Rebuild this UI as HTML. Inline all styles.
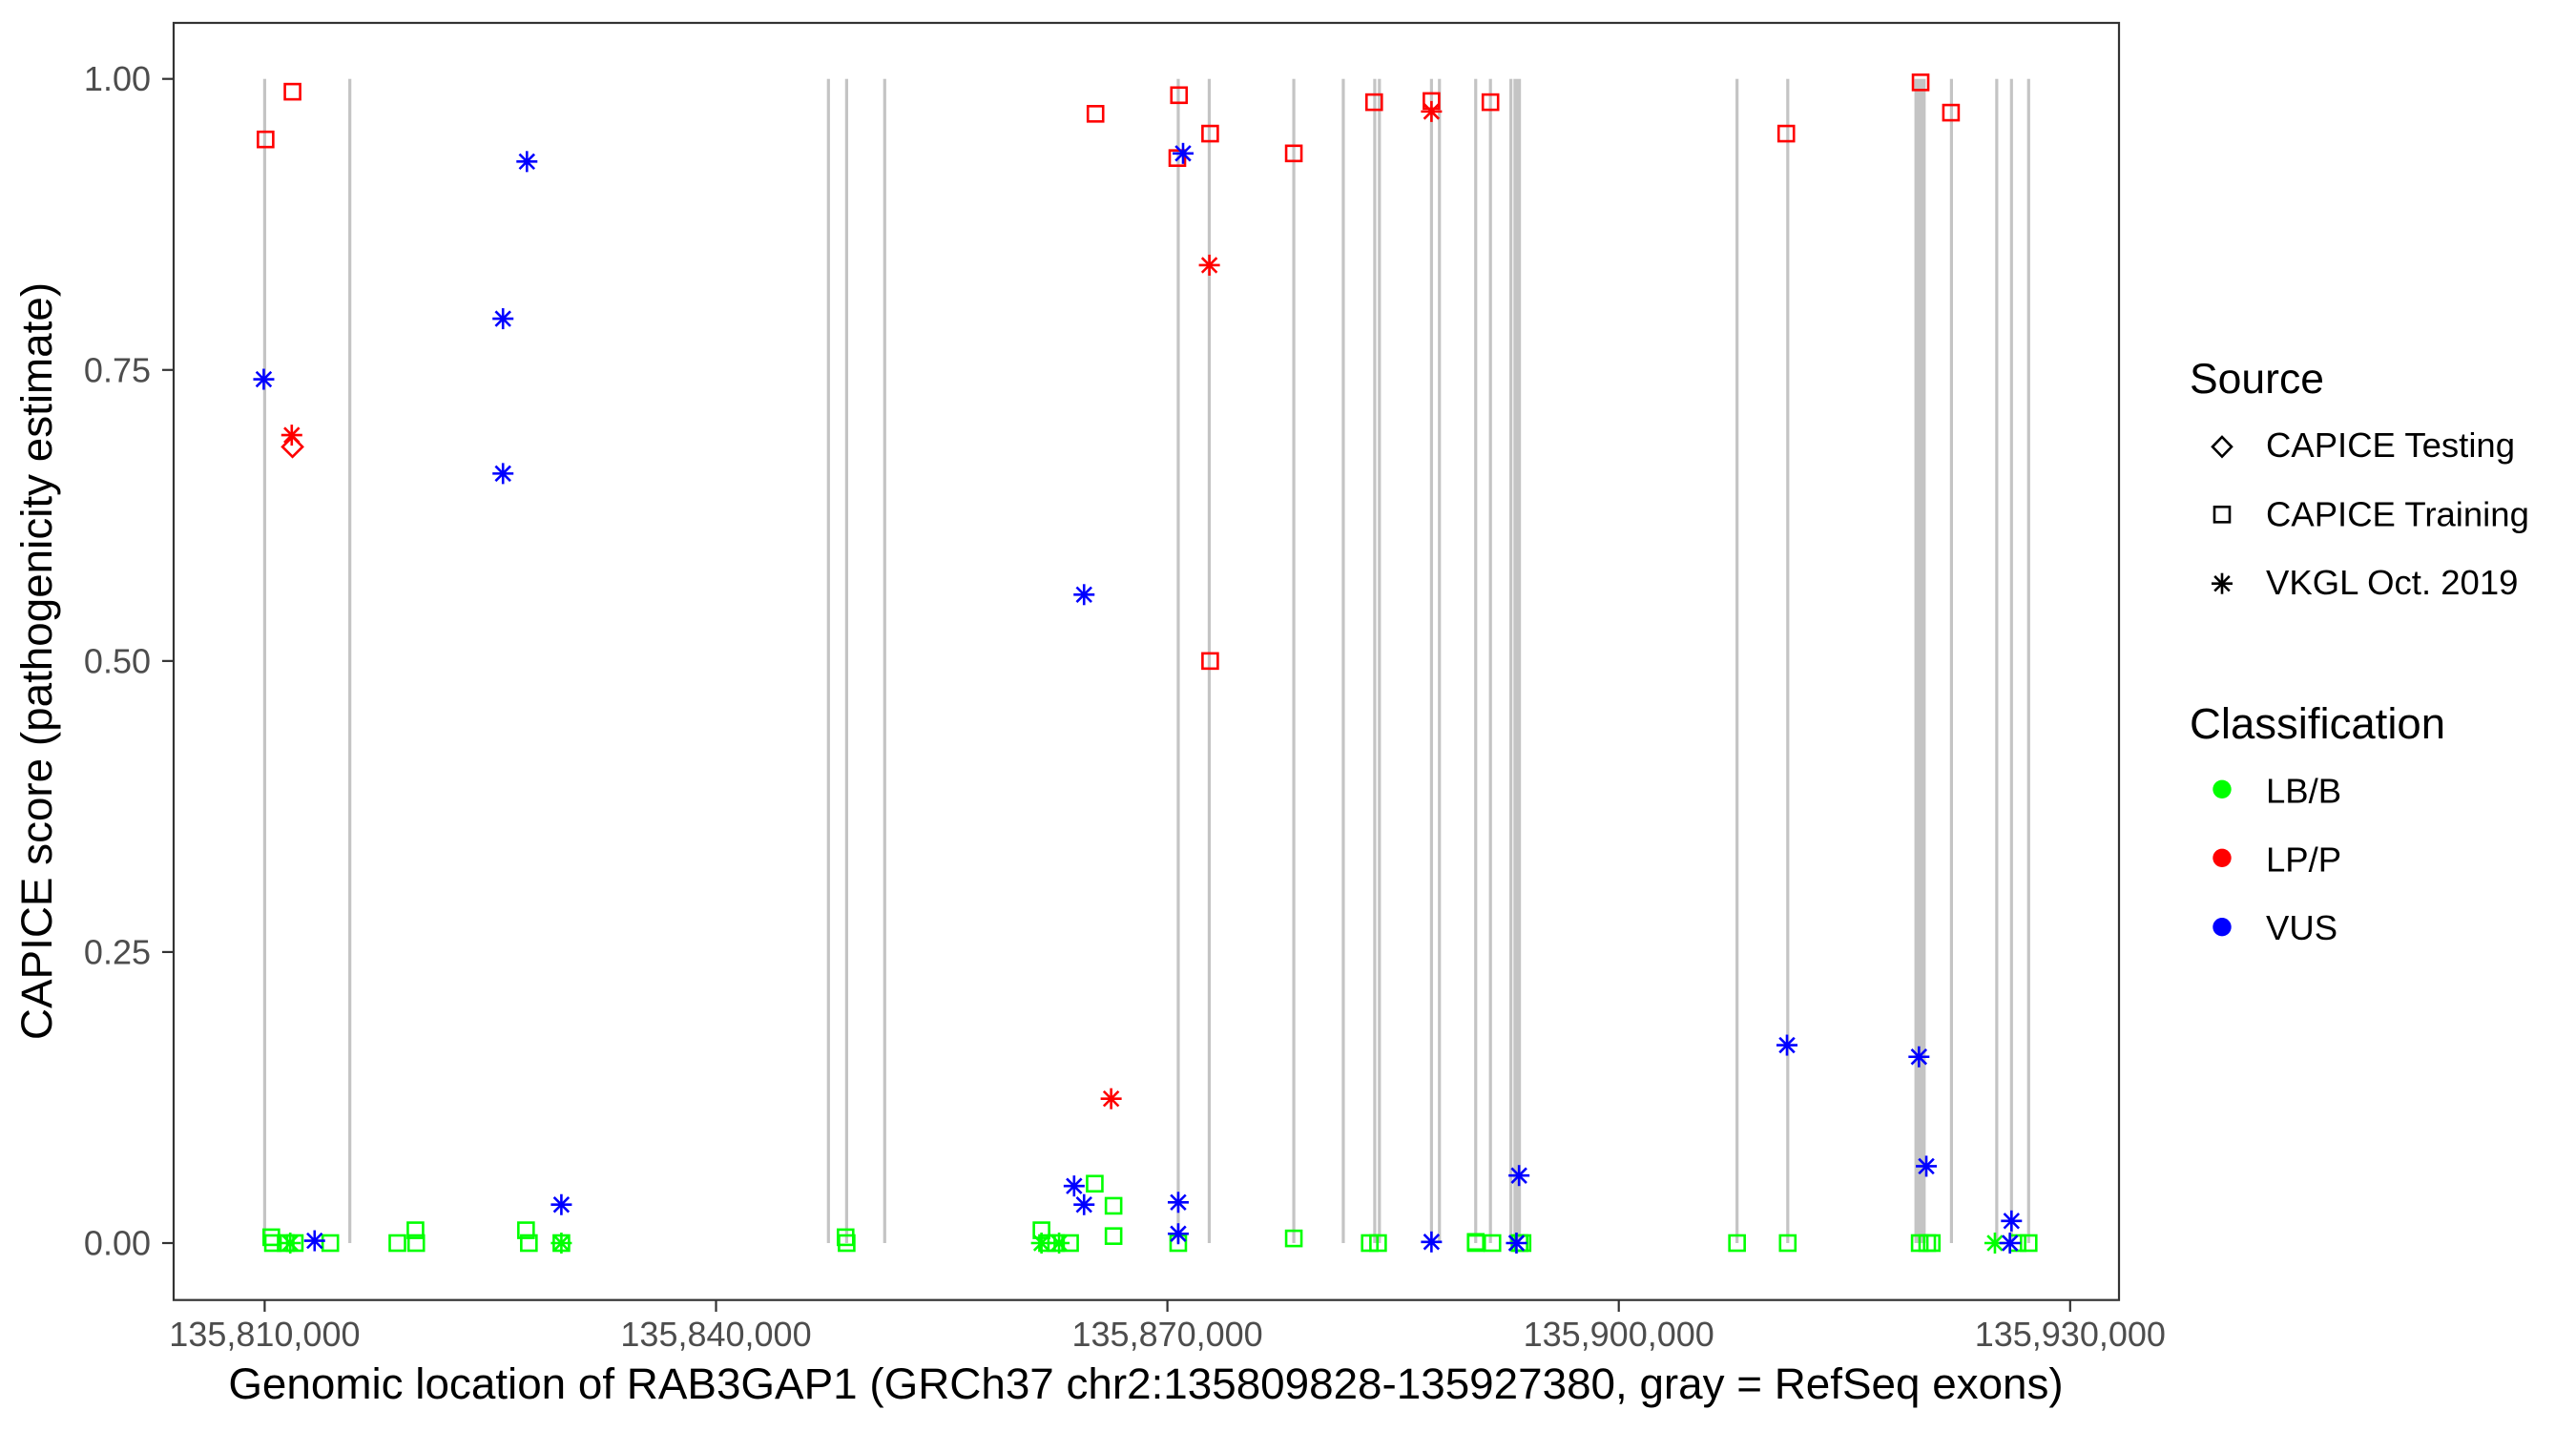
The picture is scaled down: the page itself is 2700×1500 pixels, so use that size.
<!DOCTYPE html>
<html><head><meta charset="utf-8"><style>
html,body{margin:0;padding:0;background:#fff}
svg{display:block;font-family:"Liberation Sans",Arial,sans-serif}
</style></head><body>
<svg id="chart" width="2700" height="1500" viewBox="0 0 2700 1500" xmlns="http://www.w3.org/2000/svg">
<rect x="0" y="0" width="2700" height="1500" fill="#fff"/>
<g id="exons"></g>
<g id="points"></g>
<rect x="182" y="24" width="2039" height="1338.7" fill="none" stroke="#333" stroke-width="2.2"/>
<g id="axes"></g>
<text x="1201" y="1466" font-size="45.8" text-anchor="middle" fill="#000">Genomic location of RAB3GAP1 (GRCh37 chr2:135809828-135927380, gray = RefSeq exons)</text>
<text transform="translate(54,693) rotate(-90)" font-size="45.8" text-anchor="middle" fill="#000">CAPICE score (pathogenicity estimate)</text>
<g>
<text x="2295" y="412" font-size="44.5" fill="#000">Source</text>
<g>
<path d="M2329,458 L2339,468.3 L2329,478.6 L2319,468.3 Z" fill="none" stroke="#000" stroke-width="2.6"/>
<text x="2375" y="479" font-size="36.5" fill="#000">CAPICE Testing</text></g>
<g>
<rect x="2321" y="531.3" width="16" height="16" fill="none" stroke="#000" stroke-width="2.6"/>
<text x="2375" y="551.5" font-size="36.5" fill="#000">CAPICE Training</text></g>
<g>
<g stroke="#000" stroke-width="2.6"><line x1="2329" y1="600.7" x2="2329" y2="622.7"/><line x1="2318" y1="611.7" x2="2340" y2="611.7"/><line x1="2321.2" y1="603.9" x2="2336.8" y2="619.5"/><line x1="2321.2" y1="619.5" x2="2336.8" y2="603.9"/></g>
<text x="2375" y="623" font-size="36.5" fill="#000">VKGL Oct. 2019</text></g>
</g>
<g>
<text x="2295" y="774" font-size="45.5" fill="#000">Classification</text>
<g><circle cx="2329" cy="827.3" r="9.7" fill="#00ff00"/><text x="2375" y="841.5" font-size="36.5" fill="#000">LB/B</text></g>
<g><circle cx="2329" cy="899.3" r="9.7" fill="#ff0000"/><text x="2375" y="913.3" font-size="36.5" fill="#000">LP/P</text></g>
<g><circle cx="2329" cy="971.7" r="9.7" fill="#0000ff"/><text x="2375" y="985" font-size="36.5" fill="#000">VUS</text></g>
</g>
</svg>
<script>
const BASE = 135810000;
const xTicks = [135810000, 135840000, 135870000, 135900000, 135930000];
const xTickLabels = ["135,810,000", "135,840,000", "135,870,000", "135,900,000", "135,930,000"];
const yTicks = [0, 0.25, 0.5, 0.75, 1];
const yTickLabels = ["0.00", "0.25", "0.50", "0.75", "1.00"];
// exon start offsets (kb from 135,810,000) and widths (kb)
const exonStart = [0, 5.66, 37.47, 38.68, 41.21, 60.72, 62.78, 68.40, 71.69, 73.78, 74.09, 77.55, 78.08, 80.49, 81.47, 82.83, 83.1, 97.86, 101.23, 109.75, 112.11, 115.12, 116.10, 117.24];
const exonWidth = [0.1, 0.1, 0.1, 0.1, 0.1, 0.15, 0.1, 0.1, 0.1, 0.1, 0.1, 0.1, 0.1, 0.1, 0.15, 0.1, 0.5, 0.1, 0.15, 0.75, 0.1, 0.1, 0.1, 0.1];
// points: [kb offset, score]
const redTrainPos = [0.06, 1.85, 55.22, 60.77, 60.66, 62.84, 62.84, 68.40, 73.74, 77.55, 81.47, 101.13, 110.06, 112.08];
const redTrainScore = [0.948, 0.989, 0.970, 0.986, 0.932, 0.953, 0.500, 0.936, 0.980, 0.981, 0.980, 0.953, 0.997, 0.971];
const redVkglPos = [1.80, 62.79, 56.26, 77.55];
const redVkglScore = [0.694, 0.840, 0.124, 0.972];
const redTestPos = [1.85];
const redTestScore = [0.684];
const blueVkglPos = [-0.06, 17.43, 15.84, 15.84, 54.46, 61.04, 3.32, 19.72, 53.80, 54.46, 60.72, 60.72, 77.55, 83.37, 83.2, 101.18, 109.95, 110.44, 116.10, 116.0];
const blueVkglScore = [0.742, 0.929, 0.794, 0.661, 0.557, 0.936, 0.002, 0.033, 0.049, 0.033, 0.035, 0.008, 0.001, 0.058, 0.0, 0.170, 0.160, 0.066, 0.019, 0.0];
const greenTrainPos = [0.44, 0.55, 1.4, 2.0, 4.36, 8.82, 10.02, 10.07, 17.37, 17.56, 19.72, 38.61, 38.68, 51.63, 52.0, 52.6, 53.53, 55.17, 56.42, 56.42, 60.72, 68.4, 73.45, 74.0, 80.49, 80.5, 81.6, 83.4, 83.6, 97.86, 101.23, 110.0, 110.5, 110.8, 117.24, 116.5];
const greenTrainScore = [0.005, 0.0, 0.0, 0.0, 0.0, 0.0, 0.011, 0.0, 0.011, 0.0, 0.0, 0.005, 0.0, 0.011, 0.0, 0.0, 0.0, 0.051, 0.032, 0.006, 0.0, 0.004, 0.0, 0.0, 0.001, 0.0, 0.0, 0.0, 0.0, 0.0, 0.0, 0.0, 0.0, 0.0, 0.0, 0.0];
const greenVkglPos = [1.7, 19.72, 51.63, 52.8, 115.0];
const greenVkglScore = [0.0, 0.0, 0.0, 0.0, 0.0];

const NS = "http://www.w3.org/2000/svg";
function xScale(g){ return 182 + ((g - BASE)/1000 + 6.05) * 15.77; }
function xKb(kb){ return xScale(BASE + kb*1000); }
function yScale(v){ return 1303 - v * 1220.3; }
function mk(tag, attrs, parent){ const e = document.createElementNS(NS, tag); for (const k in attrs) e.setAttribute(k, attrs[k]); parent.appendChild(e); return e; }

const exG = document.getElementById('exons');
for (let i = 0; i < exonStart.length; i++) {
  const x1 = xKb(exonStart[i]), w = Math.max(3.2, exonWidth[i]*15.77);
  const r = mk('rect', {x: x1 - 1.6, y: yScale(1), width: w, height: yScale(0) - yScale(1), fill: '#c4c4c4'}, exG);
  
  
}

const ptG = document.getElementById('points');
function square(x, y, c){
  const r = mk('rect', {x: x-8, y: y-8, width: 16, height: 16, fill: 'none', stroke: c, 'stroke-width': 2.6}, ptG);
  
  
}
function star(x, y, c){
  const g = mk('g', {stroke: c, 'stroke-width': 2.6}, ptG);
  
  
  const s = 11, d = 7.8;
  mk('line', {x1: x, y1: y-s, x2: x, y2: y+s}, g);
  mk('line', {x1: x-s, y1: y, x2: x+s, y2: y}, g);
  mk('line', {x1: x-d, y1: y-d, x2: x+d, y2: y+d}, g);
  mk('line', {x1: x-d, y1: y+d, x2: x+d, y2: y-d}, g);
}
function diamond(x, y, c){
  const p = mk('path', {d: `M${x},${y-10.5} L${x+10.5},${y} L${x},${y+10.5} L${x-10.5},${y} Z`, fill: 'none', stroke: c, 'stroke-width': 2.6}, ptG);
  
  
}
const G='#00ff00', R='#ff0000', B='#0000ff';
greenTrainPos.forEach((p,i)=>square(xKb(p), yScale(greenTrainScore[i]), G));
greenVkglPos.forEach((p,i)=>star(xKb(p), yScale(greenVkglScore[i]), G));
redTrainPos.forEach((p,i)=>square(xKb(p), yScale(redTrainScore[i]), R));
redTestPos.forEach((p,i)=>diamond(xKb(p), yScale(redTestScore[i]), R));
redVkglPos.forEach((p,i)=>star(xKb(p), yScale(redVkglScore[i]), R));
blueVkglPos.forEach((p,i)=>star(xKb(p), yScale(blueVkglScore[i]), B));

const ax = document.getElementById('axes');
xTicks.forEach((t,i)=>{
  const x = xScale(t);
  const l = mk('line', {x1: x, y1: 1363, x2: x, y2: 1375, stroke: '#333', 'stroke-width': 2.2}, ax);
  
  
  const tx = mk('text', {x: x, y: 1411, 'font-size': 36, 'text-anchor': 'middle', fill: '#4d4d4d'}, ax);
  tx.textContent = xTickLabels[i];
  
  
});
yTicks.forEach((t,i)=>{
  const y = yScale(t);
  const l = mk('line', {x1: 170, y1: y, x2: 182, y2: y, stroke: '#333', 'stroke-width': 2.2}, ax);
  
  
  const tx = mk('text', {x: 158, y: y + 12.5, 'font-size': 36, 'text-anchor': 'end', fill: '#4d4d4d'}, ax);
  tx.textContent = yTickLabels[i];
  
  
});
</script>
</body></html>
